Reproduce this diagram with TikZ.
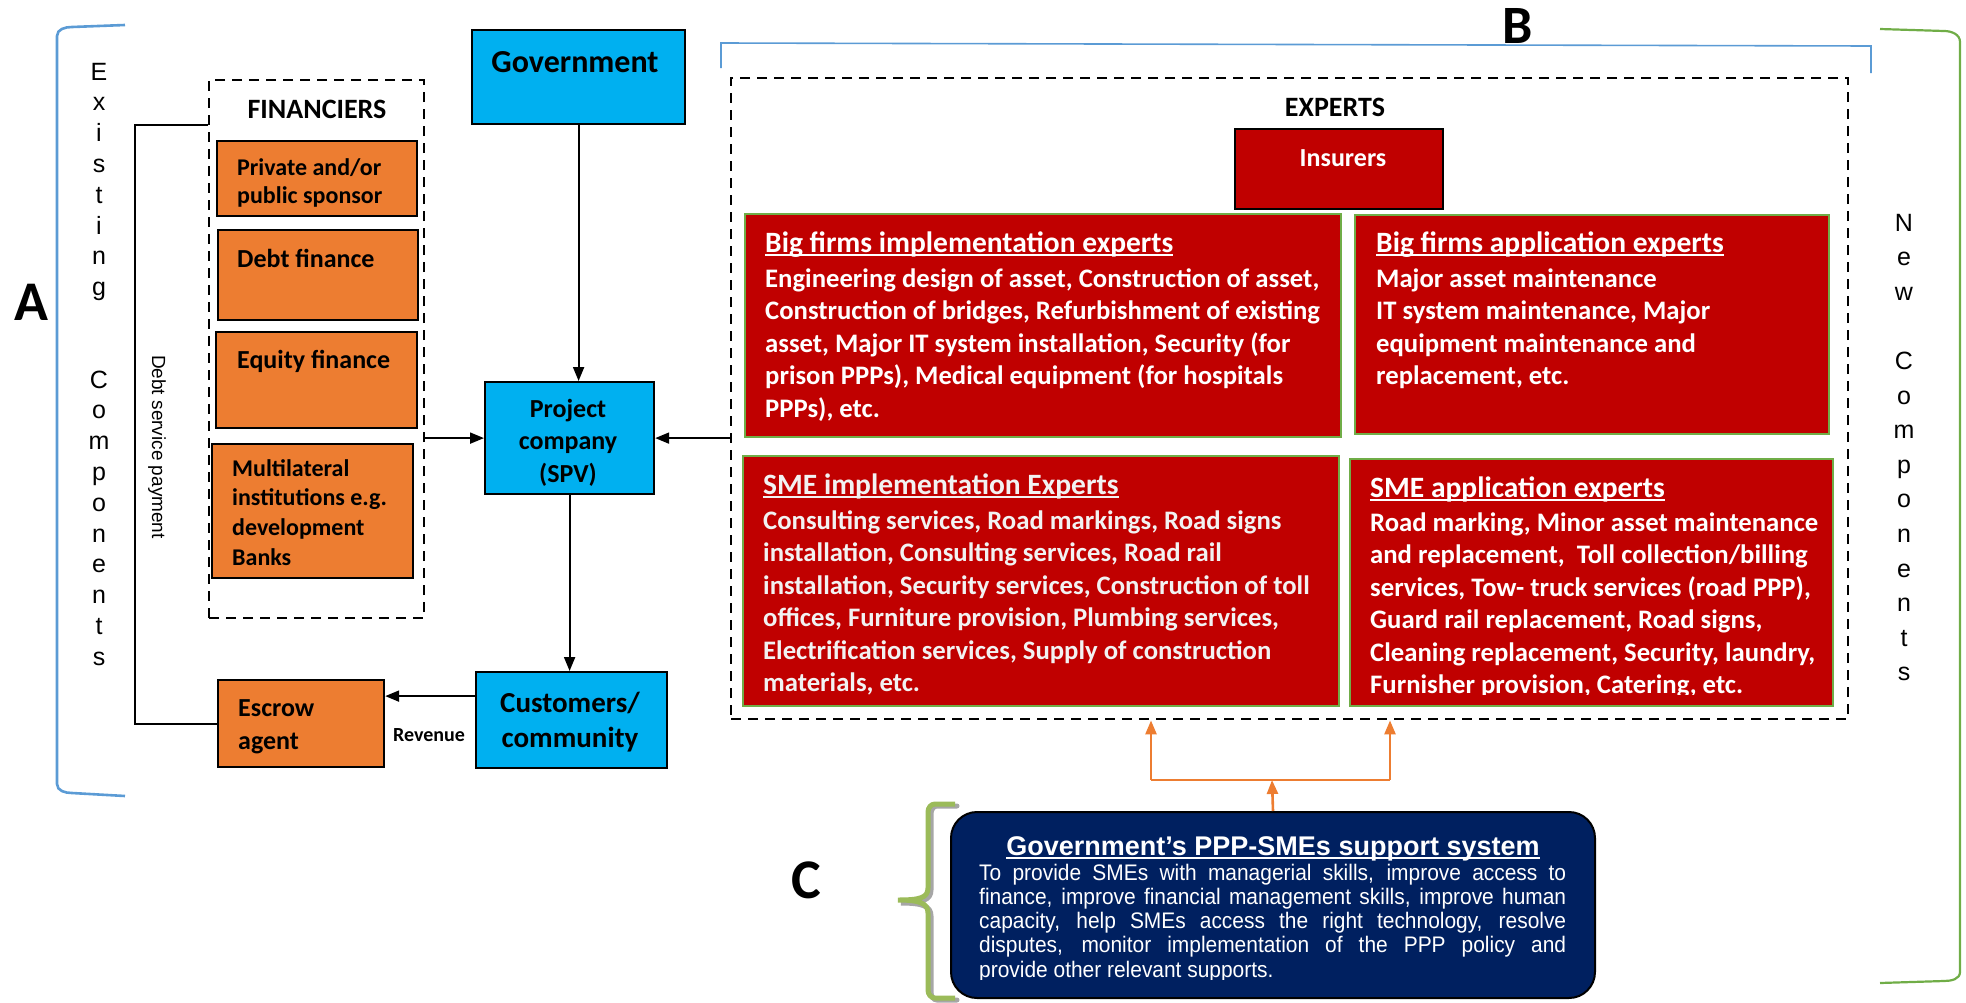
\documentclass[tikz,border=0pt]{standalone}
\usepackage{fontspec}
\setmainfont{Carlito}
\newfontfamily\arialfont{Liberation Sans}
\newfontfamily\narrowfont[FakeStretch=0.93]{Liberation Sans}
\usetikzlibrary{arrows.meta,calc}

\definecolor{orangefill}{HTML}{ED7D31}
\definecolor{bluefill}{HTML}{00B0F0}
\definecolor{redfill}{HTML}{C00000}
\definecolor{greenedge}{HTML}{70AD47}
\definecolor{navyfill}{HTML}{002060}
\definecolor{bracketblue}{HTML}{5B9BD5}
\definecolor{bracegreen}{HTML}{9BBB59}
\definecolor{orangearrow}{HTML}{ED7D31}

\newcommand{\fs}[2]{\fontsize{#1}{#2}\selectfont}
% underline sitting just below the baseline
\newcommand{\ulinetext}[1]{\leavevmode\setbox0\hbox{#1}\rlap{\rule[-4pt]{\wd0}{2.2pt}}\box0}
% rectangle node given by its two corners
\newcommand{\boxat}[6]{\node[#2, minimum width={(#5-#3)*1pt}, minimum height={(#6-#4)*1pt}, anchor=north west] (#1) at (#3,#4) {};}

\begin{document}
\begin{tikzpicture}[x=1pt,y=-1pt,
  basebox/.style={draw=black, line width=2.2pt, inner sep=0pt},
  orangebox/.style={basebox, fill=orangefill},
  bluebox/.style={basebox, fill=bluefill},
  redbox/.style={draw=greenedge, line width=2.4pt, fill=redfill, inner sep=0pt},
  insbox/.style={basebox, fill=redfill},
  dashbox/.style={draw=black, line width=2.4pt, dash pattern=on 10pt off 7pt, inner sep=0pt},
  arr/.style={draw=black, line width=2pt, -{Triangle[length=14pt,width=11pt]}},
  oarr/.style={draw=orangearrow, line width=2.6pt, -{Triangle[length=14pt,width=11pt]}},
  darktext/.style={inner sep=0pt, text=black, font=\bfseries},
  whitetext/.style={inner sep=0pt, text=white, font=\bfseries},
  redtitle/.style={whitetext, font=\bfseries\fs{29.5}{29.5}, anchor=base west},
  redbody/.style={whitetext, font=\bfseries\fs{26.7}{32.55}, anchor=base west, align=left},
  lettr/.style={inner sep=0pt, font=\arialfont\fs{25}{25}},
  bigletter/.style={inner sep=0pt, font=\bfseries\fs{56}{56}},
]
\useasboundingbox (0,0) rectangle (1966,1002);

% multi-line text nodes are anchored at the baseline of their last line

% ---------- brackets ----------
\draw[bracketblue, line width=2.6pt] (125,25) -- (72,27) to[out=180,in=90] (57,36) -- (57,784) to[out=-90,in=180] (72,793) -- (125,796);
\draw[bracketblue, line width=1.6pt] (721,68) -- (721,43) -- (1871,46) -- (1871,73);
\draw[greenedge, line width=2.2pt] (1880,29) -- (1944,31) to[out=0,in=90] (1960,42) -- (1960,972) to[out=-90,in=0] (1944,981) -- (1880,983);

% ---------- section letters ----------
\node[bigletter] (lblA) at (31,302) {A};
\node[bigletter, font=\bfseries\fs{54}{54}] (lblB) at (1518,26) {B};
\node[bigletter] (lblC) at (806,880) {C};

% ---------- Existing Components (vertical letters) ----------
\foreach \ch [count=\i from 0] in {E,x,i,s,t,i,n,g}
  \node[lettr, anchor=base] (exa-\i) at (99,{80+30.8*\i}) {\ch};
\foreach \ch [count=\i from 10] in {C,o,m,p,o,n,e,n,t,s}
  \node[lettr, anchor=base] (exb-\i) at (99,{80+30.8*\i}) {\ch};

% ---------- New Components (vertical letters) ----------
\foreach \ch [count=\i from 0] in {N,e,w}
  \node[lettr, anchor=base] (nwa-\i) at (1904,{231+34.6*\i}) {\ch};
\foreach \ch [count=\i from 4] in {C,o,m,p,o,n,e,n,t,s}
  \node[lettr, anchor=base] (nwb-\i) at (1904,{231+34.6*\i}) {\ch};

% ---------- financiers ----------
\boxat{finbox}{dashbox}{208}{79}{423}{617}
\node[darktext, font=\bfseries\fs{28}{28}] (fintitle) at (317,109) {FINANCIERS};
\boxat{sponsor}{orangebox}{216}{140}{416}{215}
\node[darktext, font=\bfseries\fs{24}{28}, anchor=base west, align=left] (sponsor-t) at (237,{175+28}) {Private and/or\\public sponsor};
\boxat{debt}{orangebox}{217}{229}{417}{319}
\node[darktext, font=\bfseries\fs{26}{30}, anchor=base west] (debt-t) at (237,267) {Debt finance};
\boxat{equity}{orangebox}{215}{331}{416}{427}
\node[darktext, font=\bfseries\fs{26}{30}, anchor=base west] (equity-t) at (237,368) {Equity finance};
\boxat{multi}{orangebox}{211}{443}{412}{577}
\node[darktext, font=\bfseries\fs{24}{29.7}, anchor=base west, align=left] (multi-t) at (232,{476+3*29.7}) {Multilateral\\institutions e.g.\\development\\Banks};

% ---------- escrow, customers, project, government ----------
\boxat{esc}{orangebox}{217}{679}{383}{766}
\node[darktext, font=\bfseries\fs{26}{33}, anchor=base west, align=left] (esc-t) at (238,{716+33}) {Escrow\\agent};
\boxat{gov}{bluebox}{471}{29}{684}{123}
\node[darktext, font=\bfseries\fs{32}{32}] (gov-t) at (575,62) {Government};
\boxat{proj}{bluebox}{484}{381}{653}{493}
\node[darktext, font=\bfseries\fs{26}{32.5}, anchor=base, align=center] (proj-t) at (568,{417+2*32.5}) {Project\\company\\(SPV)};
\boxat{cust}{bluebox}{475}{671}{666}{767}
\node[darktext, font=\bfseries\fs{29}{35}, anchor=base, align=center] (cust-t) at (570,{712+35}) {Customers/\\community};
\node[darktext, font=\bfseries\fs{20}{20}] (rev) at (429,735) {Revenue};

% ---------- experts ----------
\boxat{expbox}{dashbox}{730}{77}{1847}{718}
\node[darktext, font=\bfseries\fs{28}{28}] (exptitle) at (1335,107) {EXPERTS};
\boxat{ins}{insbox}{1234}{128}{1442}{208}
\node[whitetext, font=\bfseries\fs{26}{26}, anchor=base] (ins-t) at (1343,166) {Insurers};

\boxat{bfi}{redbox}{744}{213}{1340}{436}
\node[redtitle] (bfi-title) at (765,252) {\ulinetext{Big firms implementation experts}};
\node[redbody] (bfi-body) at (765,{287+4*32.55}) {Engineering design of asset, Construction of asset,\\Construction of bridges, Refurbishment of existing\\asset, Major IT system installation, Security (for\\prison PPPs), Medical equipment (for hospitals\\PPPs), etc.};

\boxat{bfa}{redbox}{1354}{214}{1828}{433}
\node[redtitle] (bfa-title) at (1376,252) {\ulinetext{Big firms application experts}};
\node[redbody] (bfa-body) at (1376,{287+3*32.55}) {Major asset maintenance\\IT system maintenance, Major\\equipment maintenance and\\replacement, etc.};

\boxat{smi}{redbox}{742}{455}{1338}{705}
\node[redtitle, text=white!90!gray] (smi-title) at (763,494) {\ulinetext{SME implementation Experts}};
\node[redbody, text=white!90!gray] (smi-body) at (763,{529+5*32.55}) {Consulting services, Road markings, Road signs\\installation, Consulting services, Road rail\\installation, Security services, Construction of toll\\offices, Furniture provision, Plumbing services,\\Electrification services, Supply of construction\\materials, etc.};

\boxat{sma}{redbox}{1349}{458}{1832}{705}
\node[redtitle] (sma-title) at (1370,497) {\ulinetext{SME application experts}};
\begin{scope}
  \clip (1349,458) rectangle (1832,694);
  \node[redbody] (sma-body) at (1370,{531+5*32.55}) {Road marking, Minor asset maintenance\\and replacement,\ \ Toll collection/billing\\services, Tow- truck services (road PPP),\\Guard rail replacement, Road signs,\\Cleaning replacement, Security, laundry,\\Furnisher provision, Catering, etc.};
\end{scope}

% ---------- support system ----------
\draw[gray!70, line width=5pt, line cap=round] (957,806) -- (937,806) to[out=180,in=90] (931,814) -- (931,890) .. controls (931,900) and (922,903) .. (901,903) .. controls (922,903) and (931,906) .. (931,916) -- (931,992) to[out=-90,in=180] (937,1000) -- (957,1000);
\draw[bracegreen, line width=5pt] (955,804) -- (935,804) to[out=180,in=90] (928,812) -- (928,888) .. controls (928,898) and (919,900) .. (898,900) .. controls (919,900) and (928,903) .. (928,913) -- (928,990) to[out=-90,in=180] (935,998) -- (955,998);
\node[draw=black, line width=2pt, fill=navyfill, rounded corners=26pt, minimum width=644pt, minimum height=186pt, anchor=north west, inner sep=0pt] (sup) at (950,811) {};
\node[inner sep=0pt, text=white, font=\arialfont\bfseries\fs{27}{27}, anchor=base] (sup-title) at (1273,855) {\ulinetext{Government’s PPP-SMEs support system}};
\begin{scope}
  \clip (950,811) rectangle (1594,979);
  \node[inner sep=0pt, text=white, font=\narrowfont\fs{22.5}{24.3}, anchor=base west, align=left] (sup-body) at (979,{880+4*24.3}) {\makebox[587pt][s]{To provide SMEs with managerial skills, improve access to}\\\makebox[587pt][s]{finance, improve financial management skills, improve human}\\\makebox[587pt][s]{capacity, help SMEs access the right technology, resolve}\\\makebox[587pt][s]{disputes, monitor implementation of the PPP policy and}\\provide other relevant supports.};
\end{scope}

% ---------- connectors ----------
\draw[arr] (gov.south) -- (gov.south |- proj.north);
\draw[arr] (proj.west -| finbox.east) -- (proj.west);
\draw[arr] (proj.east -| expbox.west) -- (proj.east);
\draw[arr] (proj.south) -- (proj.south |- cust.north);
\draw[arr] ([yshift=24pt]cust.west) -- ([yshift=24pt]cust.west -| esc.east);
\coordinate (dspcorner) at (135,125);
\draw[black, line width=2pt] (esc.west) -| (dspcorner) -- (dspcorner -| finbox.west);
\node[inner sep=0pt, rotate=-90, font=\arialfont\fs{19}{19}] (dsp-t) at (157,447) {Debt service payment};

\coordinate (joinL) at (1151,780);
\coordinate (joinR) at (1390,780);
\coordinate (joinM) at (1272,780);
\draw[orangearrow, line width=2.6pt] (joinL) -- (joinR);
\draw[oarr] (joinL) -- (joinL |- expbox.south);
\draw[oarr] (joinR) -- (joinR |- expbox.south);
\draw[oarr] (sup.north) -- (joinM);
\end{tikzpicture}
\end{document}
